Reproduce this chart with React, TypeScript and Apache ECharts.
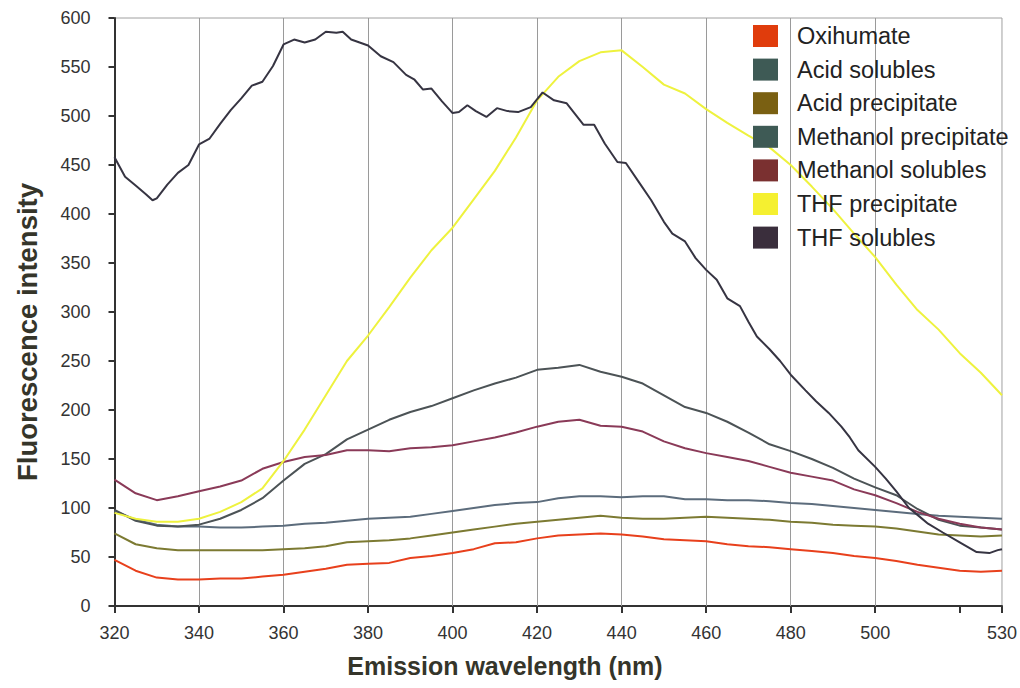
import React, { useEffect, useRef } from "react";
import * as echarts from "echarts";

const wavelengths = [320,325,330,335,340,345,350,355,360,365,370,375,380,385,390,395,400,405,410,415,420,425,430,435,440,445,450,455,460,465,470,475,480,485,490,495,500,505,510,515,520,525,530];

const oxihumate = [47,36,29,27,27,28,28,30,32,35,38,42,43,44,49,51,54,58,64,65,69,72,73,74,73,71,68,67,66,63,61,60,58,56,54,51,49,46,42,39,36,35,36];
const acidSolubles = [97,88,83,81,81,80,80,81,82,84,85,87,89,90,91,94,97,100,103,105,106,110,112,112,111,112,112,109,109,108,108,107,105,104,102,100,98,96,94,92,91,90,89];
const acidPrecipitate = [74,63,59,57,57,57,57,57,58,59,61,65,66,67,69,72,75,78,81,84,86,88,90,92,90,89,89,90,91,90,89,88,86,85,83,82,81,79,76,73,72,71,72];
const methanolPrecipitate = [98,87,82,81,83,89,98,110,128,145,155,170,180,190,198,204,212,220,227,233,241,243,246,239,234,227,215,203,197,188,177,165,158,150,141,130,121,113,99,88,82,80,78];
const methanolSolubles = [129,115,108,112,117,122,128,140,147,152,154,159,159,158,161,162,164,168,172,177,183,188,190,184,183,178,168,161,156,152,148,142,136,132,128,119,113,105,96,89,84,80,78];
const thfPrecipitate = [95,89,86,86,89,96,106,120,148,180,215,250,276,305,335,363,386,415,444,478,516,540,556,565,567,550,532,523,507,493,480,468,450,428,405,380,356,328,302,282,258,238,215];

const thfSolublesWl = [320,322.5,325,327.5,329,330,332.5,335,337.5,340,342.5,345,347.5,350,352.5,355,357.5,360,362.5,365,367.5,370,372.5,374,376,380,383,386,389,391,393,395,397.5,400,401.5,403.5,405.5,408,410.5,413,415.5,418.5,421.3,424,427,429,431,433.5,436,439,441,444,447,450,452,455,457.5,460,462.5,465,468,470,472,475,477.5,480,483.5,486,489,492,494,496,500,502.5,505,508,510,512.5,516,520,524,527,529,530];
const thfSolubles = [458,438,429,420,414,416,430,442,450,471,477,492,506,518,531,535,551,573,578,575,578,586,585,586,578,572,561,555,542,537,527,528,515,503,504,511,505,499,508,505,504,509,524,516,513,502,491,491,472,453,452,433,414,392,380,372,355,343,333,314,306,290,275,262,250,236,220,209,197,183,172,159,142,130,117,100,93,84,75,65,55,54,57,58];

const seriesNames = ["Oxihumate","Acid solubles","Acid precipitate","Methanol precipitate","Methanol solubles","THF precipitate","THF solubles"];
const lineColors = ["#e8401c","#5c6c7c","#7c7a32","#4c5356","#8a3a58","#eef23e","#363442"];
const swatchColors = ["#e03c0c","#3e5a55","#7a6012","#3e5a55","#7a3030","#f5f030","#3a2e3c"];

const gridWavelengths = [340,360,380,400,420,440,460,480,500];
const yTicks = { min: 0, max: 600, interval: 50 };
const xTicks = { min: 320, max: 530, interval: 20 };

const FONT = "'Liberation Sans', Arial, sans-serif";

export default function App() {
  const ref = useRef<HTMLDivElement>(null);
  useEffect(() => {
    document.body.style.margin = "0";
    if (!ref.current) return;
    const chart = echarts.init(ref.current, null, { renderer: "svg" });
    const valueSets = [oxihumate, acidSolubles, acidPrecipitate, methanolPrecipitate, methanolSolubles, thfPrecipitate];
    const series: any[] = valueSets.map((vals, i) => ({
      name: seriesNames[i],
      type: "line",
      showSymbol: false,
      symbol: "none",
      color: lineColors[i],
      lineStyle: { width: 2, color: lineColors[i] },
      data: wavelengths.map((w, j) => [w, vals[j]]),
      z: 3,
    }));
    series.push({
      name: seriesNames[6],
      type: "line",
      showSymbol: false,
      symbol: "none",
      color: lineColors[6],
      lineStyle: { width: 2, color: lineColors[6] },
      data: thfSolublesWl.map((w, j) => [w, thfSolubles[j]]),
      z: 3,
    });
    series[0].markLine = {
      silent: true,
      symbol: "none",
      label: { show: false },
      lineStyle: { color: "#9a9a9a", width: 1, type: "solid" },
      data: gridWavelengths.map((w) => ({ xAxis: w })),
      z: 1,
    };
    chart.setOption({
      animation: false,
      backgroundColor: "#ffffff",
      textStyle: { fontFamily: FONT },
      grid: {
        left: 114.5,
        top: 18,
        right: 11,
        bottom: 82,
        show: true,
        borderColor: "#a0a0a0",
        borderWidth: 1,
        backgroundColor: "transparent",
      },
      legend: {
        orient: "vertical",
        left: 753,
        top: 24,
        padding: 0,
        itemWidth: 25,
        itemHeight: 22,
        itemGap: 9.6,
        icon: "rect",
        textStyle: { fontSize: 23.5, lineHeight: 22, color: "#222", fontFamily: FONT, padding: [0, 0, 0, 14] },
        data: seriesNames.map((n, i) => ({ name: n, itemStyle: { color: swatchColors[i] } })),
      },
      xAxis: {
        type: "value",
        min: xTicks.min,
        max: xTicks.max,
        interval: xTicks.interval,
        axisLine: { show: true, onZero: false, lineStyle: { color: "#333", width: 2 } },
        axisTick: { show: true, length: 7, lineStyle: { color: "#333", width: 2 } },
        axisLabel: {
          fontSize: 18,
          color: "#333",
          margin: 18,
          fontFamily: FONT,
          formatter: (v: number) => (v === 520 ? "" : String(v)),
        },
        splitLine: { show: false },
      },
      yAxis: {
        type: "value",
        min: yTicks.min,
        max: yTicks.max,
        interval: yTicks.interval,
        axisLine: { show: true, lineStyle: { color: "#333", width: 2 } },
        axisTick: { show: true, length: 6, lineStyle: { color: "#333", width: 2 } },
        axisLabel: { fontSize: 18, color: "#333", margin: 24, fontFamily: FONT },
        splitLine: { show: false },
      },
      graphic: [
        {
          type: "text",
          x: 505,
          y: 666,
          style: {
            text: "Emission wavelength (nm)",
            font: "bold 25px " + FONT,
            fill: "#35352a",
            align: "center",
            verticalAlign: "middle",
          },
        },
        {
          type: "text",
          x: 27,
          y: 332,
          rotation: Math.PI / 2,
          style: {
            text: "Fluorescence intensity",
            font: "bold 27.5px " + FONT,
            fill: "#35352a",
            align: "center",
            verticalAlign: "middle",
          },
        },
      ],
      series,
    });
    return () => chart.dispose();
  }, []);
  return <div ref={ref} style={{ width: 1020, height: 688 }} />;
}
